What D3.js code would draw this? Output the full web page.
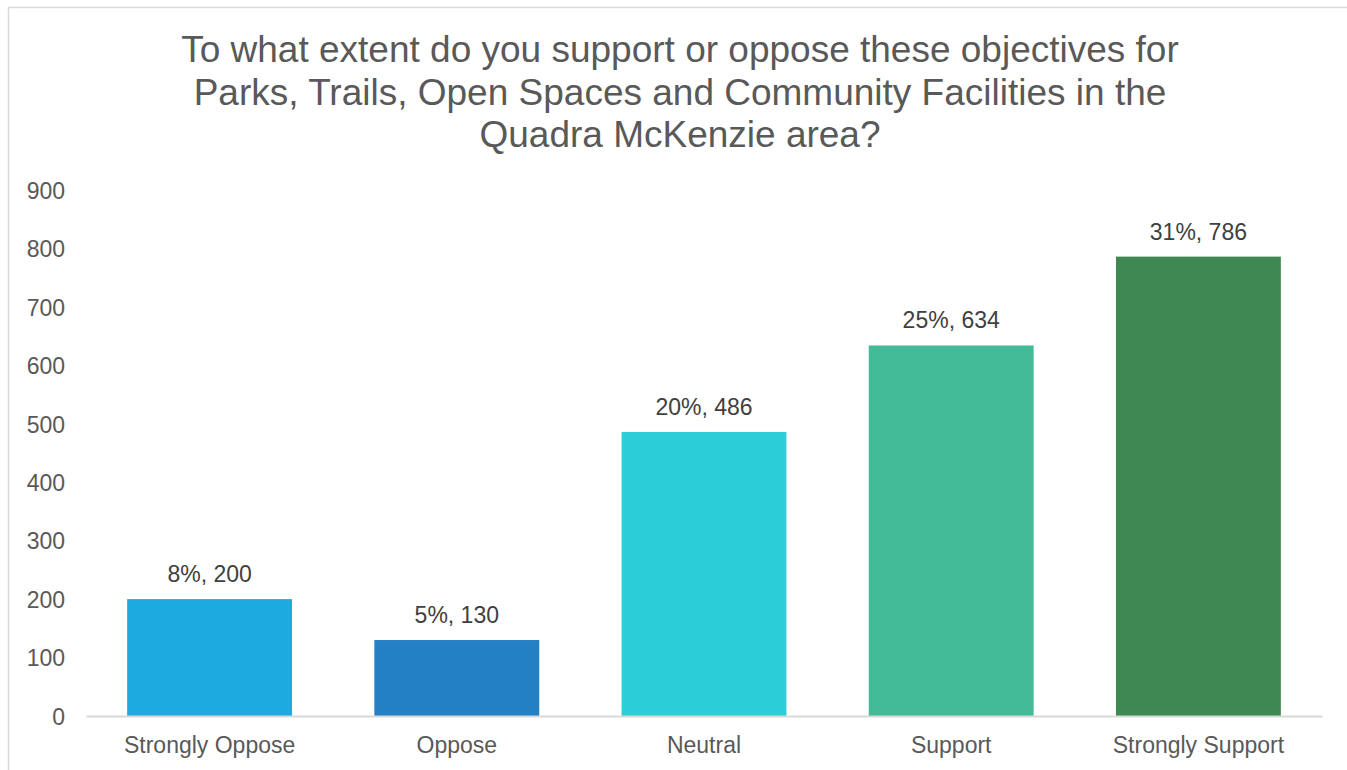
<!DOCTYPE html>
<html>
<head>
<meta charset="utf-8">
<script src="https://cdn.jsdelivr.net/npm/d3@7"></script>
<style>
  html, body { margin: 0; padding: 0; background: #fff; }
  svg { display: block; font-family: "Liberation Sans", Arial, sans-serif; }
</style>
</head>
<body>
<svg id="chart" width="1347" height="770"></svg>
<script>
const titleLines = [
  "To what extent do you support or oppose these objectives for",
  "Parks, Trails, Open Spaces and Community Facilities in the",
  "Quadra McKenzie area?"
];
const categories = ["Strongly Oppose", "Oppose", "Neutral", "Support", "Strongly Support"];
const counts = [200, 130, 486, 634, 786];
const percents = ["8%", "5%", "20%", "25%", "31%"];
const barColors = ["#1DAAE1", "#2480C4", "#29CED6", "#43BA98", "#3E8853"];
const yTicks = [0, 100, 200, 300, 400, 500, 600, 700, 800, 900];

const svg = d3.select("#chart");
const W = 1347, H = 770;
const plot = { left: 86, right: 1322, top: 190, bottom: 716 };

// frame
svg.append("path")
  .attr("d", `M8.5,${H + 2} L8.5,7.5 L${W + 2},7.5`)
  .attr("fill", "none")
  .attr("stroke", "#d9d9d9")
  .attr("stroke-width", 1.5);

// title
const title = svg.append("text")
  .attr("text-anchor", "middle")
  .attr("fill", "#595959")
  .style("font-size", "37px");
titleLines.forEach((t, i) => {
  title.append("tspan").attr("x", 680).attr("y", 62 + i * 42.5).text(t);
});

const x = d3.scaleBand()
  .domain(categories)
  .range([plot.left, plot.right])
  .paddingInner(0.333)
  .paddingOuter(0.1665);

const y = d3.scaleLinear().domain([0, 900]).range([plot.bottom, plot.top]);

// y axis labels
const yAxis = d3.axisLeft(y).tickValues(yTicks).tickSize(0).tickPadding(0);
const yg = svg.append("g").attr("transform", "translate(65,0)").call(yAxis);
yg.select(".domain").remove();
yg.selectAll("text")
  .attr("fill", "#595959")
  .style("font-size", "23px")
  .style("font-family", "'Liberation Sans', Arial, sans-serif")
  .attr("dy", "0.36em");

// bars
svg.append("g").selectAll("rect")
  .data(categories)
  .join("rect")
  .attr("x", d => x(d))
  .attr("width", x.bandwidth())
  .attr("y", (d, i) => y(counts[i]))
  .attr("height", (d, i) => y(0) - y(counts[i]))
  .attr("fill", (d, i) => barColors[i]);

// baseline axis
const xAxis = d3.axisBottom(x).tickSize(0).tickPadding(0);
const xg = svg.append("g").attr("transform", `translate(0,${y(0)})`).call(xAxis);
xg.select(".domain")
  .attr("stroke", "#d9d9d9")
  .attr("stroke-width", 2);
xg.selectAll("text")
  .attr("fill", "#595959")
  .style("font-size", "23px")
  .style("font-family", "'Liberation Sans', Arial, sans-serif")
  .attr("dy", 0)
  .attr("y", 37);

// data labels
svg.append("g").selectAll("text")
  .data(categories)
  .join("text")
  .attr("x", d => x(d) + x.bandwidth() / 2)
  .attr("y", (d, i) => y(counts[i]) - 17)
  .attr("text-anchor", "middle")
  .attr("fill", "#404040")
  .style("font-size", "23px")
  .text((d, i) => `${percents[i]}, ${counts[i]}`);
</script>
</body>
</html>
